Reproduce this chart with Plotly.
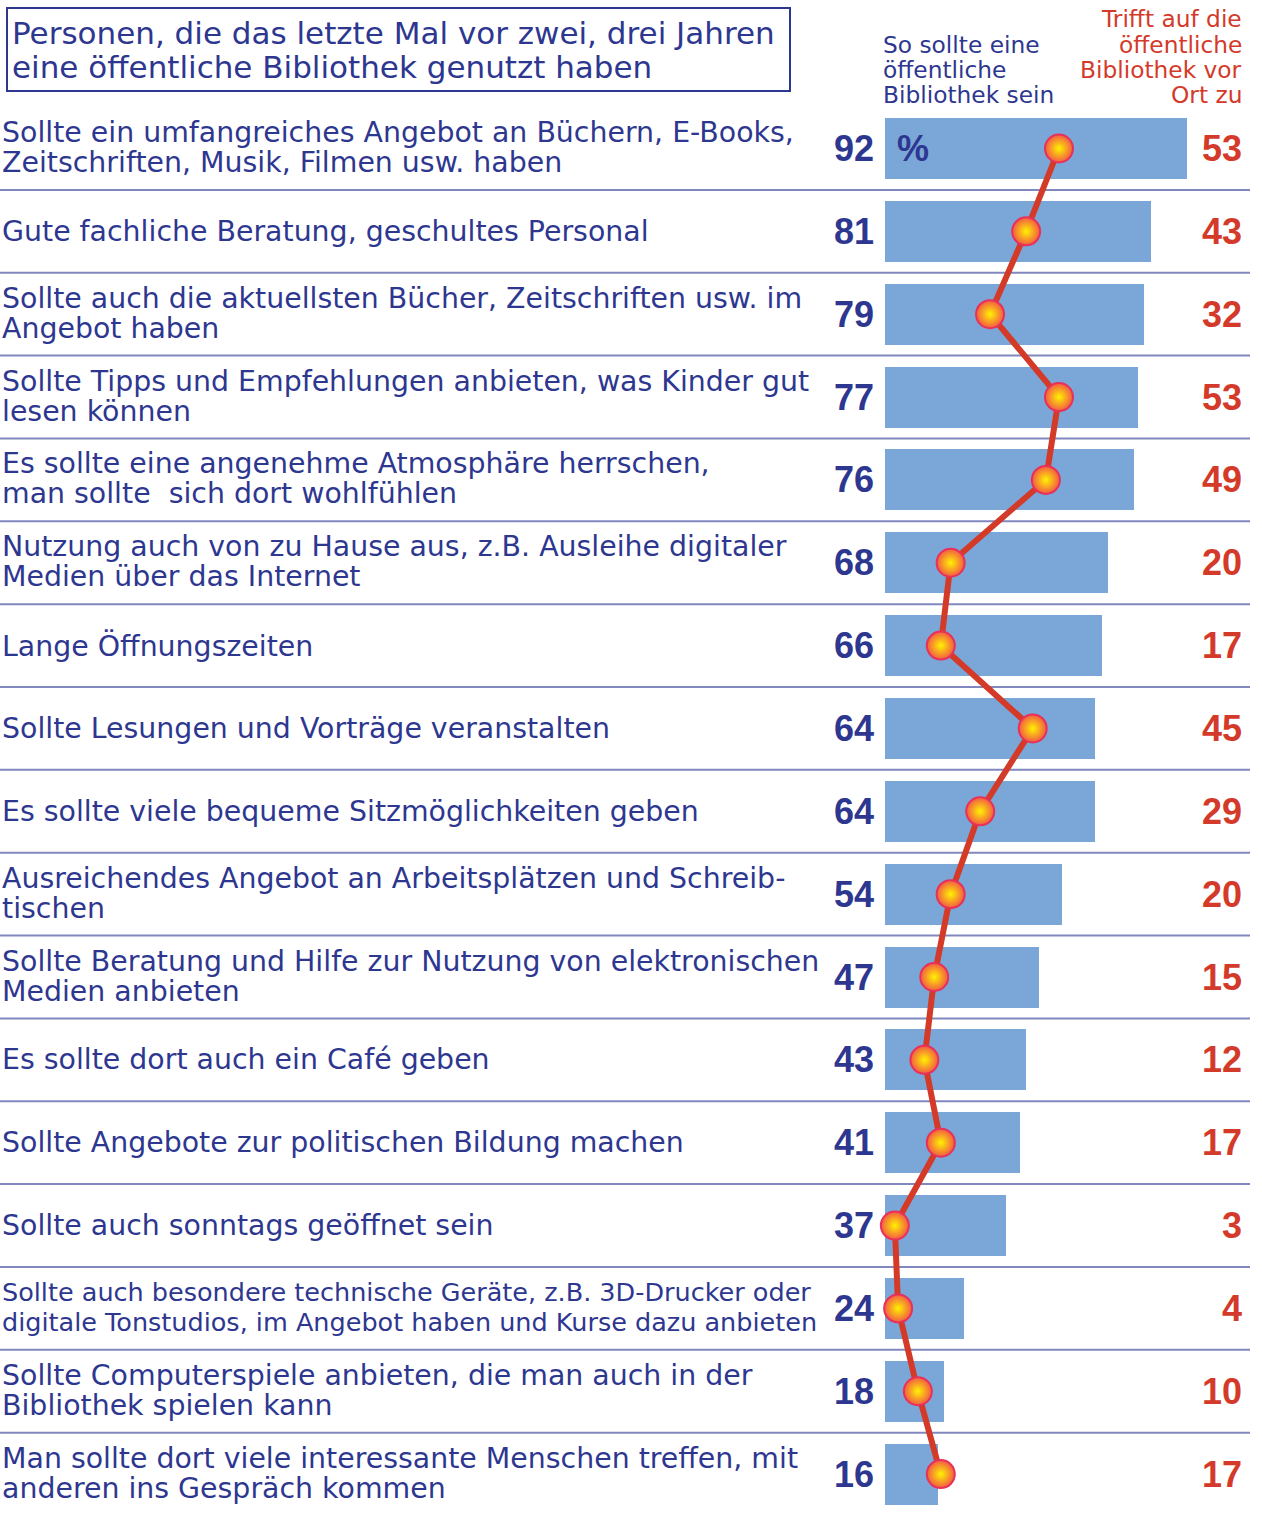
import plotly.graph_objects as go

# ---------------- data ----------------
labels = [
    ["Sollte ein umfangreiches Angebot an Büchern, E-Books,", "Zeitschriften, Musik, Filmen usw. haben"],
    ["Gute fachliche Beratung, geschultes Personal"],
    ["Sollte auch die aktuellsten Bücher, Zeitschriften usw. im", "Angebot haben"],
    ["Sollte Tipps und Empfehlungen anbieten, was Kinder gut", "lesen können"],
    ["Es sollte eine angenehme Atmosphäre herrschen,", "man sollte  sich dort wohlfühlen"],
    ["Nutzung auch von zu Hause aus, z.B. Ausleihe digitaler", "Medien über das Internet"],
    ["Lange Öffnungszeiten"],
    ["Sollte Lesungen und Vorträge veranstalten"],
    ["Es sollte viele bequeme Sitzmöglichkeiten geben"],
    ["Ausreichendes Angebot an Arbeitsplätzen und Schreib-", "tischen"],
    ["Sollte Beratung und Hilfe zur Nutzung von elektronischen", "Medien anbieten"],
    ["Es sollte dort auch ein Café geben"],
    ["Sollte Angebote zur politischen Bildung machen"],
    ["Sollte auch sonntags geöffnet sein"],
    ["Sollte auch besondere technische Geräte, z.B. 3D-Drucker oder",
     "digitale Tonstudios, im Angebot haben und Kurse dazu anbieten"],
    ["Sollte Computerspiele anbieten, die man auch in der", "Bibliothek spielen kann"],
    ["Man sollte dort viele interessante Menschen treffen, mit", "anderen ins Gespräch kommen"],
]
ideal = [92, 81, 79, 77, 76, 68, 66, 64, 64, 54, 47, 43, 41, 37, 24, 18, 16]
actual = [53, 43, 32, 53, 49, 20, 17, 45, 29, 20, 15, 12, 17, 3, 4, 10, 17]

title_lines = ["Personen, die das letzte Mal vor zwei, drei Jahren",
               "eine öffentliche Bibliothek genutzt haben"]
head_ideal = ["So sollte eine", "öffentliche", "Bibliothek sein"]
head_actual = ["Trifft auf die", "öffentliche", "Bibliothek vor", "Ort zu"]

# ---------------- style ----------------
W, H = 1262, 1529
BLUE_TXT = "#2e3790"
RED_TXT = "#d43a2a"
BAR = "#7ba7d8"
SEP = "#8088bf"
FONT = "DejaVu Sans"
NUMFONT = "Liberation Sans"

# pixel mapping for axes
X0PX, XSCALE = 885, 302 / 92.0
Y0PX, YSTEP = 148.5, 82.85
xr = [-X0PX / XSCALE, (W - X0PX) / XSCALE]
yr = [(H - Y0PX) / YSTEP, -Y0PX / YSTEP]

n = len(ideal)
ys = list(range(n))

fig = go.Figure()
fig.add_trace(go.Bar(
    x=ideal, y=ys, orientation="h", width=61 / YSTEP,
    marker=dict(color=BAR, line=dict(width=0)), hoverinfo="skip",
))
fig.add_trace(go.Scatter(
    x=actual, y=ys, mode="lines+markers",
    line=dict(color="#d43a28", width=6),
    marker=dict(size=28, color="#f25a45",
                gradient=dict(type="radial", color="#fff200"),
                line=dict(color="#e8305a", width=2)),
    hoverinfo="skip",
))

ann = []
def px2x(p):
    return p / W

for i, lines in enumerate(labels):
    size = 25.5 if i == 14 else 28.4
    if len(lines) == 1:
        shifts = [0]
    else:
        shifts = [16, -14]
    for line, sh in zip(lines, shifts):
        ann.append(dict(text=line, x=px2x(0), xref="paper", y=i, yref="y",
                        xanchor="left", yanchor="middle", yshift=sh, showarrow=False,
                        font=dict(family=FONT, size=size, color=BLUE_TXT)))
    ann.append(dict(text=str(ideal[i]), x=px2x(876), xref="paper", y=i, yref="y",
                    xanchor="right", yanchor="middle", showarrow=False,
                    font=dict(family=NUMFONT, size=36, color=BLUE_TXT, weight="bold")))
    ann.append(dict(text=str(actual[i]), x=px2x(1244), xref="paper", y=i, yref="y",
                    xanchor="right", yanchor="middle", showarrow=False,
                    font=dict(family=NUMFONT, size=36, color=RED_TXT, weight="bold")))

ann.append(dict(text="%", x=px2x(895), xref="paper", y=0, yref="y",
                xanchor="left", yanchor="middle", showarrow=False,
                font=dict(family=NUMFONT, size=36, color=BLUE_TXT, weight="bold")))

for k, line in enumerate(title_lines):
    ann.append(dict(text=line, x=px2x(10), xref="paper", y=1 - (33 + 34 * k) / H, yref="paper",
                    xanchor="left", yanchor="middle", showarrow=False,
                    font=dict(family=FONT, size=31, color=BLUE_TXT)))
for k, line in enumerate(head_ideal):
    ann.append(dict(text=line, x=px2x(881), xref="paper", y=1 - (44 + 25 * k) / H, yref="paper",
                    xanchor="left", yanchor="middle", showarrow=False,
                    font=dict(family=FONT, size=23.3, color=BLUE_TXT)))
for k, line in enumerate(head_actual):
    ann.append(dict(text=line, x=px2x(1244), xref="paper", y=1 - (19 + 25 * k) / H, yref="paper",
                    xanchor="right", yanchor="middle", showarrow=False,
                    font=dict(family=FONT, size=23.3, color=RED_TXT)))

shapes = []
for i in range(n - 1):
    shapes.append(dict(type="line", xref="paper", yref="y", x0=0, x1=1250 / W,
                       y0=i + 0.5, y1=i + 0.5, line=dict(color=SEP, width=2), layer="below"))
shapes.append(dict(type="rect", xref="paper", yref="paper", x0=7 / W, x1=790 / W,
                   y0=1 - 91 / H, y1=1 - 8 / H, line=dict(color=BLUE_TXT, width=2)))

fig.update_layout(
    width=W, height=H, margin=dict(l=0, r=0, t=0, b=0),
    paper_bgcolor="white", plot_bgcolor="white", showlegend=False,
    xaxis=dict(range=xr, visible=False, fixedrange=True),
    yaxis=dict(range=yr, visible=False, fixedrange=True),
    annotations=ann, shapes=shapes, bargap=0,
)

fig.write_html("out.html", config={"displayModeBar": False},
               post_script="document.body.style.margin='0';document.body.style.overflow='hidden';")
